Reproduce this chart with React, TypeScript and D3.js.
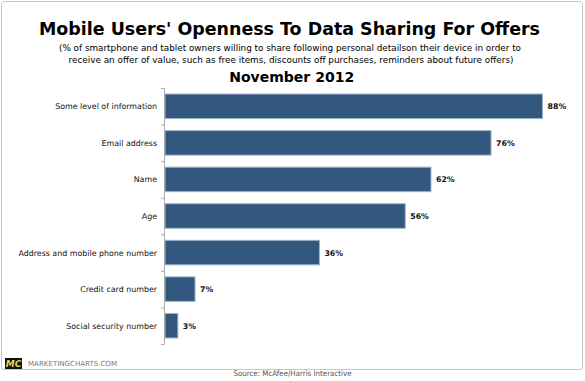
import React from "react";
import * as d3 from "d3";

const categories = [
  "Some level of information",
  "Email address",
  "Name",
  "Age",
  "Address and mobile phone number",
  "Credit card number",
  "Social security number",
];
const values = [88, 76, 62, 56, 36, 7, 3];

const W = 585;
const H = 381;
const FONT = "Verdana, 'DejaVu Sans', sans-serif";

export default function App() {
  const x = d3.scaleLinear().domain([0, 100]).range([165, 594]);
  const y = d3.scaleBand<string>().domain(categories).range([88, 344]).paddingInner(0.33).paddingOuter(0.165);
  const yFull = d3.scaleBand<string>().domain(categories).range([88, 344]);
  const ticks = d3.range(categories.length + 1).map((i) => 88 + i * yFull.step());

  return (
    <svg width={W} height={H} style={{ position: "absolute", left: 0, top: 0, background: "#fff" }}>
      <rect x={1.5} y={1.5} width={581} height={368} rx={3} fill="#fff" stroke="#c6c6c6" strokeWidth={1} />
      <text x={289.5} y={35} textAnchor="middle" fontFamily={FONT} fontWeight="bold" fontSize={18} textLength={501} lengthAdjust="spacingAndGlyphs">
        Mobile Users' Openness To Data Sharing For Offers
      </text>
      <text x={290} y={50.5} textAnchor="middle" fontFamily={FONT} fontSize={9.4} textLength={462} lengthAdjust="spacingAndGlyphs">
        (% of smartphone and tablet owners willing to share following personal detailson their device in order to
      </text>
      <text x={291} y={62.5} textAnchor="middle" fontFamily={FONT} fontSize={9.4} textLength={445} lengthAdjust="spacingAndGlyphs">
        receive an offer of value, such as free items, discounts off purchases, reminders about future offers)
      </text>
      <text x={291.7} y={82} textAnchor="middle" fontFamily={FONT} fontWeight="bold" fontSize={14.6} textLength={125} lengthAdjust="spacingAndGlyphs">
        November 2012
      </text>

      {categories.map((c, i) => (
        <g key={c}>
          <rect
            x={x(0)}
            y={y(c)!}
            width={x(values[i]) - x(0)}
            height={y.bandwidth()}
            fill="#33587f"
            stroke="#9fb3c9"
            strokeWidth={1}
          />
          <text x={157} y={y(c)! + y.bandwidth() / 2 + 3} textAnchor="end" fontFamily={FONT} fontSize={7.9} fill="#111">
            {c}
          </text>
          <text x={x(values[i]) + 5} y={y(c)! + y.bandwidth() / 2 + 3} fontFamily={FONT} fontWeight="bold" fontSize={7.8} fill="#111">
            {values[i]}%
          </text>
        </g>
      ))}

      <line x1={164.5} x2={164.5} y1={88} y2={344} stroke="#aaa" strokeWidth={1} />
      {ticks.map((t, i) => (
        <line key={i} x1={161} x2={164.5} y1={t + 0.5} y2={t + 0.5} stroke="#aaa" strokeWidth={1} />
      ))}

      <rect x={5} y={358} width={17} height={11} fill="#111" />
      <text x={13.5} y={366.5} textAnchor="middle" fontFamily={FONT} fontWeight="bold" fontStyle="italic" fontSize={9} fill="#e8d84a">
        MC
      </text>
      <text x={28} y={366} fontFamily={FONT} fontSize={7} fill="#777" textLength={89} lengthAdjust="spacingAndGlyphs">
        MARKETINGCHARTS.COM
      </text>
      <text x={292.5} y={375.7} textAnchor="middle" fontFamily={FONT} fontSize={7.6} fill="#555" textLength={118} lengthAdjust="spacingAndGlyphs">
        Source: McAfee/Harris Interactive
      </text>
    </svg>
  );
}
